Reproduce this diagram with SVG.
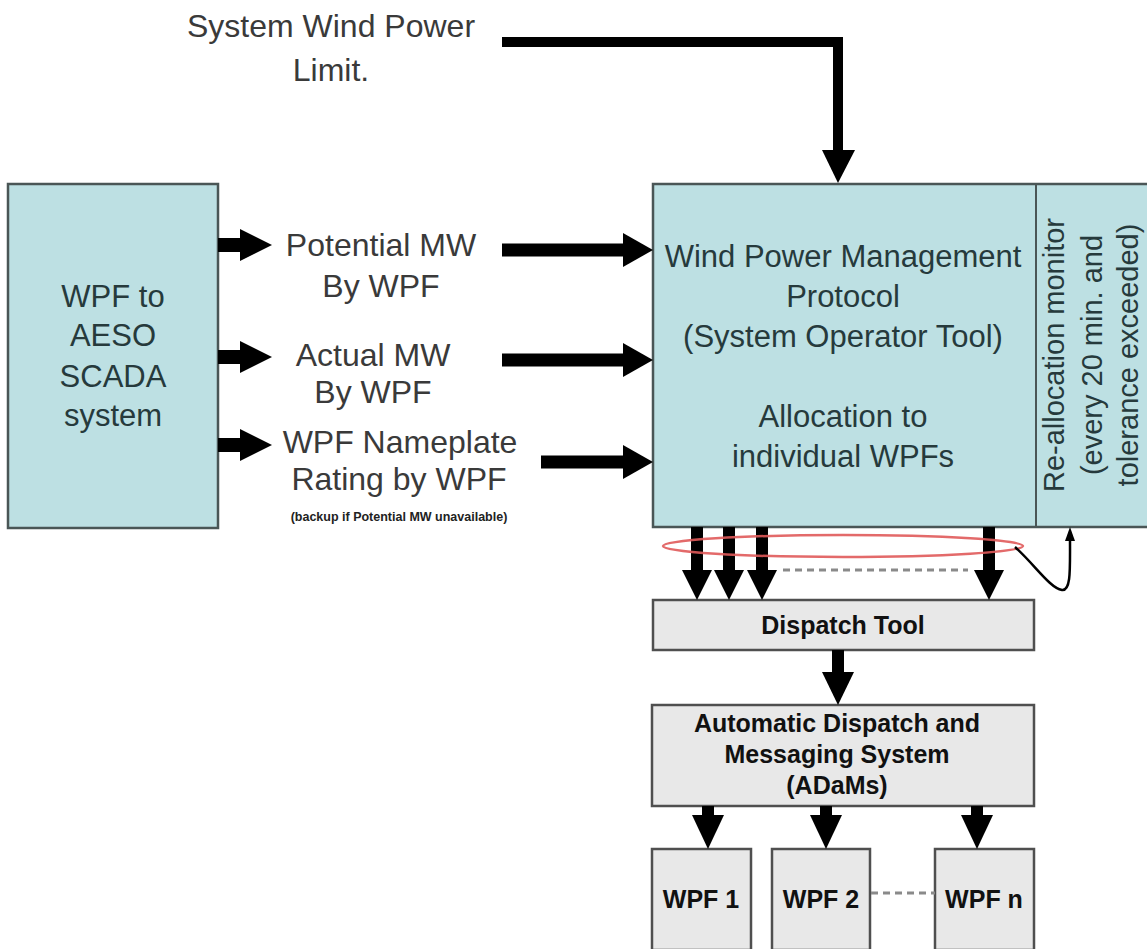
<svg xmlns="http://www.w3.org/2000/svg" width="1147" height="949" viewBox="0 0 1147 949">
<style>
.blue{fill:#bde0e3;stroke:#4a5656;stroke-width:2.5}
.gray{fill:#e8e8e8;stroke:#4f4f4f;stroke-width:2.5}
.lbl{font-family:"Liberation Sans",Arial,sans-serif;font-size:32px;fill:#3a3a3a;text-anchor:middle}
.bt{font-family:"Liberation Sans",Arial,sans-serif;font-size:31px;fill:#263a3c;text-anchor:middle}
.rot{font-family:"Liberation Sans",Arial,sans-serif;font-size:29px;fill:#263a3c;text-anchor:middle}
.bold{font-family:"Liberation Sans",Arial,sans-serif;font-size:25px;font-weight:bold;fill:#111;text-anchor:middle}
.small{font-family:"Liberation Sans",Arial,sans-serif;font-size:12.5px;font-weight:bold;fill:#222;text-anchor:middle}
.ar{fill:#000}
.dash{stroke:#8a8a8a;stroke-width:3;stroke-dasharray:7 5;fill:none}
</style>
<rect width="1147" height="949" fill="#ffffff"/>

<g id="limit-label">
<text class="lbl" x="331" y="37">System Wind Power</text>
<text class="lbl" x="331" y="81">Limit.</text>
</g>

<g id="scada">
<rect class="blue" x="8" y="184" width="210" height="344"/>
<text class="bt" x="113" y="307">WPF to</text>
<text class="bt" x="113" y="346">AESO</text>
<text class="bt" x="113" y="387">SCADA</text>
<text class="bt" x="113" y="426">system</text>
</g>

<g id="labels">
<text class="lbl" x="381" y="256">Potential MW</text>
<text class="lbl" x="381" y="297">By WPF</text>
<text class="lbl" x="373" y="366">Actual MW</text>
<text class="lbl" x="373" y="403">By WPF</text>
<text class="lbl" x="400" y="453">WPF Nameplate</text>
<text class="lbl" x="399" y="490">Rating by WPF</text>
<text class="small" x="399" y="521">(backup if Potential MW unavailable)</text>
</g>

<g id="wpmp">
<rect class="blue" x="653" y="184" width="520" height="343"/>
<line x1="1036" y1="184" x2="1036" y2="527" stroke="#4a5656" stroke-width="2"/>
<text class="bt" x="843" y="267">Wind Power Management</text>
<text class="bt" x="843" y="307">Protocol</text>
<text class="bt" x="843" y="347">(System Operator Tool)</text>
<text class="bt" x="843" y="427">Allocation to</text>
<text class="bt" x="843" y="467">individual WPFs</text>
</g>

<g id="realloc">
<text class="rot" transform="translate(1064,355) rotate(-90)" x="0" y="0">Re-allocation monitor</text>
<text class="rot" transform="translate(1102,355) rotate(-90)" x="0" y="0">(every 20 min. and</text>
<text class="rot" transform="translate(1138,355) rotate(-90)" x="0" y="0">tolerance exceeded)</text>
</g>

<g id="dispatch">
<rect class="gray" x="653" y="600" width="381" height="50"/>
<text class="bold" x="843" y="634">Dispatch Tool</text>
</g>

<g id="adams">
<rect class="gray" x="652" y="705" width="382" height="101"/>
<text class="bold" x="837" y="732">Automatic Dispatch and</text>
<text class="bold" x="837" y="763">Messaging System</text>
<text class="bold" x="837" y="794">(ADaMs)</text>
</g>

<g id="wpf1">
<rect class="gray" x="652" y="849" width="99" height="101"/>
<text class="bold" x="701" y="908">WPF 1</text>
</g>
<g id="wpf2">
<rect class="gray" x="772" y="849" width="98" height="101"/>
<text class="bold" x="821" y="908">WPF 2</text>
</g>
<g id="wpfn">
<rect class="gray" x="935" y="849" width="99" height="101"/>
<text class="bold" x="984" y="908">WPF n</text>
</g>

<g id="connectors">
<polyline points="502,42 838,42 838,152" fill="none" stroke="#000" stroke-width="10"/>
<polygon class="ar" points="822,150 855,150 838,183"/>
<rect class="ar" x="218" y="238" width="24" height="14"/>
<polygon class="ar" points="240,229 240,261 272,245"/>
<rect class="ar" x="218" y="350" width="24" height="14"/>
<polygon class="ar" points="240,341 240,373 272,357"/>
<rect class="ar" x="218" y="438" width="24" height="14"/>
<polygon class="ar" points="240,429 240,461 272,445"/>
<rect class="ar" x="502" y="243.5" width="123" height="13"/>
<polygon class="ar" points="623,233 623,267 653,250"/>
<rect class="ar" x="502" y="353.5" width="123" height="13"/>
<polygon class="ar" points="623,343 623,377 653,360"/>
<rect class="ar" x="541" y="455.5" width="84" height="13"/>
<polygon class="ar" points="623,445 623,479 653,462"/>
<rect class="ar" x="691" y="527" width="12" height="45"/>
<polygon class="ar" points="682,570 712,570 697,600"/>
<rect class="ar" x="723" y="527" width="12" height="45"/>
<polygon class="ar" points="714,570 744,570 729,600"/>
<rect class="ar" x="756" y="527" width="12" height="45"/>
<polygon class="ar" points="747,570 777,570 762,600"/>
<rect class="ar" x="983" y="527" width="12" height="45"/>
<polygon class="ar" points="974,570 1004,570 989,600"/>
<line class="dash" x1="783" y1="570" x2="968" y2="570"/>
<ellipse cx="843" cy="546" rx="180" ry="11" fill="none" stroke="#e05a5a" stroke-width="2.5" opacity="0.9"/>
<path d="M1015,547 C1035,565 1050,588 1062,590 C1071,591 1070,570 1070,540" fill="none" stroke="#000" stroke-width="2.5"/>
<polygon class="ar" points="1065,541 1075,541 1070,527"/>
<rect class="ar" x="832" y="650" width="12" height="24"/>
<polygon class="ar" points="822,672 854,672 838,705"/>
<rect class="ar" x="702" y="806" width="12" height="11"/>
<polygon class="ar" points="692,815 724,815 708,849"/>
<rect class="ar" x="820" y="806" width="12" height="11"/>
<polygon class="ar" points="810,815 842,815 826,849"/>
<rect class="ar" x="971" y="806" width="12" height="11"/>
<polygon class="ar" points="961,815 993,815 977,849"/>
<line class="dash" x1="871" y1="893" x2="935" y2="893"/>
</g>
</svg>
